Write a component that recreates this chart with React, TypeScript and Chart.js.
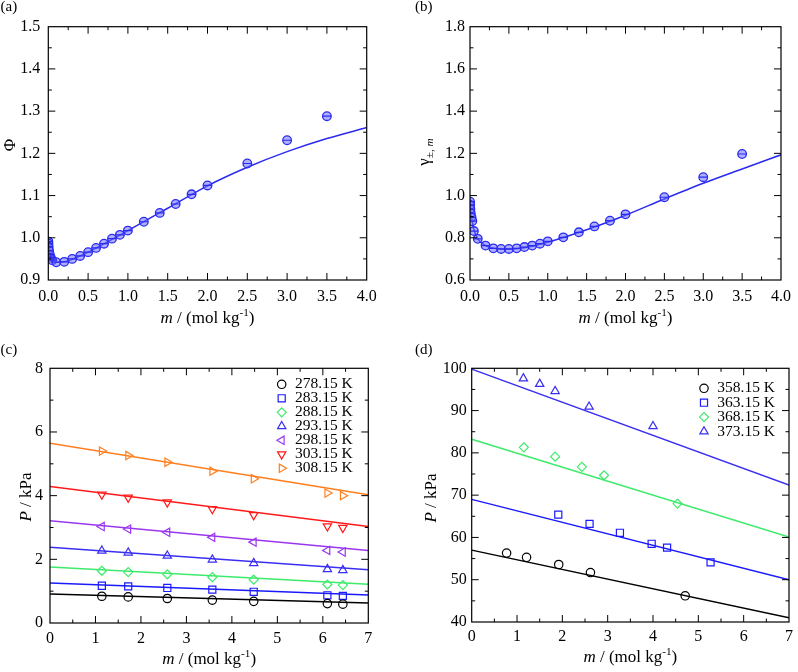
import React, { useEffect, useRef } from "react";
import { Chart, registerables } from "chart.js";
import { drawPoint } from "chart.js/helpers";
Chart.register(...registerables);

const FONT = "'Liberation Serif', 'DejaVu Serif', 'Times New Roman', serif";

// ---------- (a) osmotic coefficient ----------
const mA = [0.001, 0.002, 0.005, 0.01, 0.02, 0.03, 0.05, 0.1, 0.2, 0.3, 0.4, 0.5, 0.6, 0.7, 0.8, 0.9, 1.0, 1.2, 1.4, 1.6, 1.8, 2.0, 2.5, 3.0, 3.5];
const phiA = [0.991, 0.986, 0.978, 0.969, 0.960, 0.953, 0.947, 0.942, 0.943, 0.950, 0.957, 0.966, 0.976, 0.986, 0.998, 1.007, 1.017, 1.038, 1.059, 1.080, 1.103, 1.124, 1.176, 1.231, 1.288];
const fitMA = [0, 0.001, 0.005, 0.01, 0.02, 0.05, 0.1, 0.2, 0.3, 0.5, 0.75, 1.0, 1.5, 2.0, 2.5, 3.0, 3.5, 4.0];
const fitPhiA = [1.0, 0.99, 0.978, 0.970, 0.960, 0.948, 0.942, 0.943, 0.949, 0.966, 0.991, 1.017, 1.070, 1.123, 1.167, 1.204, 1.235, 1.261];

// ---------- (b) mean activity coefficient ----------
const mB = mA;
const gamB = [0.971, 0.955, 0.936, 0.916, 0.897, 0.879, 0.832, 0.795, 0.763, 0.750, 0.747, 0.747, 0.750, 0.756, 0.763, 0.772, 0.783, 0.802, 0.826, 0.854, 0.881, 0.911, 0.992, 1.087, 1.197];
const fitMB = [0, 0.001, 0.002, 0.005, 0.01, 0.02, 0.03, 0.05, 0.1, 0.2, 0.3, 0.4, 0.5, 0.7, 1.0, 1.5, 2.0, 2.5, 3.0, 3.5, 4.0];
const fitGamB = [0.985, 0.968, 0.955, 0.935, 0.915, 0.895, 0.878, 0.838, 0.795, 0.763, 0.751, 0.747, 0.746, 0.753, 0.779, 0.838, 0.907, 0.984, 1.058, 1.126, 1.193];

// ---------- (c) vapour pressure, low T ----------
const mC = [1.14, 1.72, 2.58, 3.57, 4.48, 6.10, 6.44];
const labelsC = ["278.15 K", "283.15 K", "288.15 K", "293.15 K", "298.15 K", "303.15 K", "308.15 K"];
const pC278 = [0.84, 0.82, 0.77, 0.72, 0.68, 0.61, 0.59];
const pC283 = [1.17, 1.15, 1.10, 1.05, 0.98, 0.87, 0.85];
const pC288 = [1.64, 1.60, 1.53, 1.44, 1.36, 1.21, 1.19];
const pC293 = [2.27, 2.21, 2.11, 1.99, 1.88, 1.69, 1.66];
const pC298 = [3.03, 2.95, 2.85, 2.69, 2.54, 2.28, 2.23];
const pC303 = [4.04, 3.94, 3.79, 3.58, 3.39, 3.04, 2.99];
const pC308 = [5.40, 5.26, 5.05, 4.77, 4.53, 4.08, 4.00];
const fitMC = [0, 7];
const fitC278 = [0.91, 0.63];
const fitC283 = [1.26, 0.88];
const fitC288 = [1.76, 1.22];
const fitC293 = [2.38, 1.67];
const fitC298 = [3.21, 2.28];
const fitC303 = [4.29, 3.03];
const fitC308 = [5.65, 4.03];

// ---------- (d) vapour pressure, high T ----------
const labelsD = ["358.15 K", "363.15 K", "368.15 K", "373.15 K"];
const mD358 = [0.77, 1.21, 1.92, 2.62, 4.71];
const pD358 = [56.3, 55.3, 53.6, 51.7, 46.2];
const mD363 = [1.91, 2.60, 3.27, 3.97, 4.31, 5.27];
const pD363 = [65.4, 63.2, 61.1, 58.5, 57.6, 54.1];
const mD368 = [1.15, 1.84, 2.43, 2.92, 4.54];
const pD368 = [81.3, 79.1, 76.7, 74.7, 68.0];
const mD373 = [1.14, 1.50, 1.84, 2.59, 4.00];
const pD373 = [97.6, 96.3, 94.6, 90.9, 86.3];
const fitMD = [0, 7];
const fitD358 = [57.0, 41.0];
const fitD363 = [69.0, 50.0];
const fitD368 = [83.2, 60.1];
const fitD373 = [99.8, 72.4];

// ---------- styles ----------
const BLUE_AB = "#2b2bef";
const FILL_AB = "rgba(110,110,255,0.55)";
const C_BLACK = "#000000";
const C_BLUE = "#1a1aff";
const C_GREEN = "#3deb6b";
const C_INDIGO = "#3a2ef2";
const C_PURPLE = "#9a36f0";
const C_RED = "#ff1a1a";
const C_ORANGE = "#ff7f1e";

type Seg = { t: string; it?: boolean; sup?: boolean; sub?: boolean };
interface Mk { style: string; rot: number; r: number }
interface LegendEntry extends Mk { label: string; color: string }
interface Panel {
  id: string; left: number; top: number; w: number; h: number;
  yAxisW: number; xAxisH: number; padTop: number; padRight: number;
  xMin: number; xMax: number; xStep: number; xMinor: number; xDec: number; xPad: number;
  yMin: number; yMax: number; yStep: number; yMinor: number; yDec: number; yPad: number;
  label: string; labelX: number; labelY: number;
  xTitleY: number; yTitle: Seg[]; yTitleX: number; yTitleY: number;
  legend?: { entries: LegendEntry[]; markerX: number; textX: number; y0: number; dy: number };
  datasets: any[];
}

const pts = (xs: number[], ys: number[]) => xs.map((x, i) => ({ x, y: ys[i] }));

const fitLine = (xs: number[], ys: number[], color: string, smooth = false) => ({
  data: pts(xs, ys), showLine: true, pointRadius: 0, borderColor: color, borderWidth: 1.5,
  fill: false, cubicInterpolationMode: smooth ? "monotone" : "default", order: 2,
});
const marks = (xs: number[], ys: number[], color: string, mk: Mk) => ({
  data: pts(xs, ys), showLine: false, pointStyle: mk.style, rotation: mk.rot, pointRotation: mk.rot,
  pointRadius: mk.r, pointBorderWidth: 1.2, borderColor: color, pointBorderColor: color,
  backgroundColor: "rgba(0,0,0,0)", pointBackgroundColor: "rgba(0,0,0,0)", order: 1,
});

const MK_CIRCLE: Mk = { style: "circle", rot: 0, r: 4.2 };
const MK_SQUARE: Mk = { style: "rect", rot: 0, r: 5 };
const MK_DIAMOND: Mk = { style: "rectRot", rot: 0, r: 4.5 };
const MK_UP: Mk = { style: "triangle", rot: 0, r: 4.8 };
const MK_LEFT: Mk = { style: "triangle", rot: -90, r: 4.8 };
const MK_DOWN: Mk = { style: "triangle", rot: 180, r: 4.8 };
const MK_RIGHT: Mk = { style: "triangle", rot: 90, r: 4.8 };

const abMarkers = (xs: number[], ys: number[]) => [
  {
    data: pts(xs, ys), showLine: false, pointStyle: "circle", pointRadius: 4.3, pointBorderWidth: 1.3,
    borderColor: BLUE_AB, pointBorderColor: BLUE_AB, backgroundColor: FILL_AB, pointBackgroundColor: FILL_AB, order: 1,
  },
  {
    data: pts(xs, ys), showLine: false, pointStyle: "line", pointRadius: 4.3, pointBorderWidth: 1.2,
    borderColor: BLUE_AB, pointBorderColor: BLUE_AB, order: 0,
  },
];

const XTITLE: Seg[] = [{ t: "m", it: true }, { t: " / (mol kg" }, { t: "-1", sup: true }, { t: ")" }];

const cEntries: LegendEntry[] = [
  { label: labelsC[0], color: C_BLACK, ...MK_CIRCLE },
  { label: labelsC[1], color: C_BLUE, ...MK_SQUARE },
  { label: labelsC[2], color: C_GREEN, ...MK_DIAMOND },
  { label: labelsC[3], color: C_INDIGO, ...MK_UP },
  { label: labelsC[4], color: C_PURPLE, ...MK_LEFT },
  { label: labelsC[5], color: C_RED, ...MK_DOWN },
  { label: labelsC[6], color: C_ORANGE, ...MK_RIGHT },
];
const dEntries: LegendEntry[] = [
  { label: labelsD[0], color: C_BLACK, ...MK_CIRCLE },
  { label: labelsD[1], color: C_BLUE, ...MK_SQUARE },
  { label: labelsD[2], color: C_GREEN, ...MK_DIAMOND },
  { label: labelsD[3], color: C_INDIGO, ...MK_UP },
];

const panels: Panel[] = [
  {
    id: "a", left: 0, top: 0, w: 399, h: 330,
    yAxisW: 48.3, xAxisH: 50, padTop: 26.7, padRight: 32.3,
    xMin: 0, xMax: 4, xStep: 0.5, xMinor: 0.25, xDec: 1, xPad: 7,
    yMin: 0.9, yMax: 1.5, yStep: 0.1, yMinor: 0.05, yDec: 1, yPad: 8,
    label: "(a)", labelX: 0.5, labelY: 11.3,
    xTitleY: 323, yTitle: [{ t: "Φ" }], yTitleX: 15, yTitleY: 145,
    datasets: [fitLine(fitMA, fitPhiA, BLUE_AB, true), ...abMarkers(mA, phiA)],
  },
  {
    id: "b", left: 400, top: 0, w: 398, h: 330,
    yAxisW: 70, xAxisH: 50, padTop: 26.7, padRight: 9.7,
    xMin: 0, xMax: 4, xStep: 0.5, xMinor: 0.25, xDec: 1, xPad: 7,
    yMin: 0.6, yMax: 1.8, yStep: 0.2, yMinor: 0.1, yDec: 1, yPad: 5,
    label: "(b)", labelX: 15, labelY: 11.3,
    xTitleY: 323, yTitle: [{ t: "γ" }, { t: "±, ", sub: true }, { t: "m", sub: true, it: true }], yTitleX: 28.5, yTitleY: 152,
    datasets: [fitLine(fitMB, fitGamB, BLUE_AB, true), ...abMarkers(mB, gamB)],
  },
  {
    id: "c", left: 0, top: 330, w: 400, h: 342,
    yAxisW: 50, xAxisH: 49, padTop: 38.3, padRight: 31.7,
    xMin: 0, xMax: 7, xStep: 1, xMinor: 0.5, xDec: 0, xPad: 6,
    yMin: 0, yMax: 8, yStep: 2, yMinor: 1, yDec: 0, yPad: 7,
    label: "(c)", labelX: 0.5, labelY: 24,
    xTitleY: 333.5, yTitle: [{ t: "P", it: true }, { t: " / kPa" }], yTitleX: 30.5, yTitleY: 167,
    legend: { entries: cEntries, markerX: 281.7, textX: 295, y0: 54.3, dy: 14 },
    datasets: [
      fitLine(fitMC, fitC278, C_BLACK), fitLine(fitMC, fitC283, C_BLUE), fitLine(fitMC, fitC288, C_GREEN),
      fitLine(fitMC, fitC293, C_INDIGO), fitLine(fitMC, fitC298, C_PURPLE), fitLine(fitMC, fitC303, C_RED),
      fitLine(fitMC, fitC308, C_ORANGE),
      marks(mC, pC278, C_BLACK, MK_CIRCLE), marks(mC, pC283, C_BLUE, MK_SQUARE), marks(mC, pC288, C_GREEN, MK_DIAMOND),
      marks(mC, pC293, C_INDIGO, MK_UP), marks(mC, pC298, C_PURPLE, MK_LEFT), marks(mC, pC303, C_RED, MK_DOWN),
      marks(mC, pC308, C_ORANGE, MK_RIGHT),
    ],
  },
  {
    id: "d", left: 400, top: 330, w: 398, h: 342,
    yAxisW: 71.7, xAxisH: 50, padTop: 38.3, padRight: 8,
    xMin: 0, xMax: 7, xStep: 1, xMinor: 0.5, xDec: 0, xPad: 5,
    yMin: 40, yMax: 100, yStep: 10, yMinor: 5, yDec: 0, yPad: 5,
    label: "(d)", labelX: 15, labelY: 24,
    xTitleY: 332, yTitle: [{ t: "P", it: true }, { t: " / kPa" }], yTitleX: 36, yTitleY: 168,
    legend: { entries: dEntries, markerX: 304, textX: 317.3, y0: 58.3, dy: 14.4 },
    datasets: [
      fitLine(fitMD, fitD358, C_BLACK), fitLine(fitMD, fitD363, C_BLUE), fitLine(fitMD, fitD368, C_GREEN),
      fitLine(fitMD, fitD373, C_INDIGO),
      marks(mD358, pD358, C_BLACK, MK_CIRCLE), marks(mD363, pD363, C_BLUE, MK_SQUARE),
      marks(mD368, pD368, C_GREEN, MK_DIAMOND), marks(mD373, pD373, C_INDIGO, MK_UP),
    ],
  },
];

const TITLE_SIZE = 17;

function richWidth(ctx: CanvasRenderingContext2D, segs: Seg[], size: number) {
  let total = 0;
  const ws: number[] = [];
  for (const s of segs) {
    const fs = s.sup || s.sub ? size * 0.66 : size;
    ctx.font = `${s.it ? "italic " : ""}${fs}px ${FONT}`;
    const w = ctx.measureText(s.t).width;
    ws.push(w);
    total += w;
  }
  return { total, ws };
}

function drawRich(ctx: CanvasRenderingContext2D, segs: Seg[], size: number, cx: number, y: number) {
  const { total, ws } = richWidth(ctx, segs, size);
  let x = cx - total / 2;
  ctx.textAlign = "left";
  ctx.textBaseline = "alphabetic";
  segs.forEach((s, i) => {
    const fs = s.sup || s.sub ? size * 0.66 : size;
    ctx.font = `${s.it ? "italic " : ""}${fs}px ${FONT}`;
    const dy = s.sup ? -size * 0.4 : s.sub ? size * 0.28 : 0;
    ctx.fillText(s.t, x, y + dy);
    x += ws[i];
  });
}

function makePlugin(p: Panel) {
  return {
    id: "panelDecor" + p.id,
    afterDraw(chart: any) {
      const ctx: CanvasRenderingContext2D = chart.ctx;
      const a = chart.chartArea;
      const xs = chart.scales.x;
      const ys = chart.scales.y;
      ctx.save();
      ctx.strokeStyle = "#000";
      ctx.fillStyle = "#000";
      ctx.lineWidth = 1.2;
      ctx.strokeRect(a.left, a.top, a.right - a.left, a.bottom - a.top);
      ctx.lineWidth = 1;
      ctx.beginPath();
      const nx = Math.round((p.xMax - p.xMin) / p.xMinor);
      for (let i = 1; i < nx; i++) {
        const v = p.xMin + i * p.xMinor;
        const r = v / p.xStep;
        const major = Math.abs(r - Math.round(r)) < 1e-6;
        const len = major ? 7 : 3.5;
        const px = xs.getPixelForValue(v);
        ctx.moveTo(px, a.bottom); ctx.lineTo(px, a.bottom - len);
        ctx.moveTo(px, a.top); ctx.lineTo(px, a.top + len);
      }
      const ny = Math.round((p.yMax - p.yMin) / p.yMinor);
      for (let i = 1; i < ny; i++) {
        const v = p.yMin + i * p.yMinor;
        const r = (v - p.yMin) / p.yStep;
        const major = Math.abs(r - Math.round(r)) < 1e-6;
        const len = major ? 7 : 3.5;
        const py = ys.getPixelForValue(v);
        ctx.moveTo(a.left, py); ctx.lineTo(a.left + len, py);
        ctx.moveTo(a.right, py); ctx.lineTo(a.right - len, py);
      }
      ctx.stroke();

      ctx.fillStyle = "#000";
      drawRich(ctx, XTITLE, TITLE_SIZE, (a.left + a.right) / 2, p.xTitleY);
      ctx.save();
      ctx.translate(p.yTitleX, p.yTitleY);
      ctx.rotate(-Math.PI / 2);
      drawRich(ctx, p.yTitle, TITLE_SIZE, 0, 0);
      ctx.restore();

      ctx.font = `15px ${FONT}`;
      ctx.textAlign = "left";
      ctx.textBaseline = "alphabetic";
      ctx.fillText(p.label, p.labelX, p.labelY);

      if (p.legend) {
        const L = p.legend;
        L.entries.forEach((e, i) => {
          const y = L.y0 + i * L.dy;
          ctx.strokeStyle = e.color;
          ctx.fillStyle = "rgba(0,0,0,0)";
          ctx.lineWidth = 1.2;
          drawPoint(ctx, { pointStyle: e.style as any, rotation: e.rot, radius: e.r, borderWidth: 1.2 } as any, L.markerX, y);
          ctx.fillStyle = "#000";
          ctx.font = `15.5px ${FONT}`;
          ctx.textBaseline = "middle";
          ctx.textAlign = "left";
          ctx.fillText(e.label, L.textX, y);
        });
      }
      ctx.restore();
    },
  };
}

function buildConfig(p: Panel): any {
  const tickFont = { family: FONT, size: 16 };
  return {
    type: "scatter",
    data: { datasets: p.datasets },
    options: {
      animation: false,
      responsive: false,
      maintainAspectRatio: false,
      events: [],
      layout: { padding: { top: p.padTop, right: p.padRight, left: 0, bottom: 0 } },
      plugins: { legend: { display: false }, tooltip: { enabled: false }, title: { display: false } },
      scales: {
        x: {
          type: "linear", min: p.xMin, max: p.xMax,
          grid: { display: false, drawTicks: false }, border: { display: false },
          ticks: {
            stepSize: p.xStep, autoSkip: false, maxRotation: 0, padding: p.xPad, color: "#000", font: tickFont,
            callback: (v: any) => Number(v).toFixed(p.xDec),
          },
          afterFit: (s: any) => { s.height = p.xAxisH; },
        },
        y: {
          type: "linear", min: p.yMin, max: p.yMax,
          grid: { display: false, drawTicks: false }, border: { display: false },
          ticks: {
            stepSize: p.yStep, autoSkip: false, padding: p.yPad, color: "#000", font: tickFont,
            callback: (v: any) => Number(v).toFixed(p.yDec),
          },
          afterFit: (s: any) => { s.width = p.yAxisW; },
        },
      },
    },
    plugins: [makePlugin(p)],
  };
}

function PanelChart({ p }: { p: Panel }) {
  const ref = useRef<HTMLCanvasElement>(null);
  useEffect(() => {
    let alive = true;
    const chart = new Chart(ref.current as HTMLCanvasElement, buildConfig(p));
    const fonts: any = (document as any).fonts;
    if (fonts && fonts.load) {
      Promise.all([
        fonts.load("16px 'Liberation Serif'"),
        fonts.load("italic 16px 'Liberation Serif'"),
      ]).then(() => { if (alive) chart.update(); }).catch(() => {});
    }
    return () => { alive = false; chart.destroy(); };
  }, []);
  return (
    <canvas
      ref={ref}
      width={p.w}
      height={p.h}
      style={{ position: "absolute", left: p.left, top: p.top, width: p.w, height: p.h, display: "block" }}
    />
  );
}

export default function App() {
  return (
    <div style={{ position: "absolute", left: 0, top: 0, width: 798, height: 672, background: "#fff", overflow: "hidden", fontFamily: FONT }}>
      <span style={{ position: "absolute", left: -1000, top: 0, fontFamily: "'Liberation Serif'" }}>.<i>m</i></span>
      {panels.map((p) => (
        <PanelChart key={p.id} p={p} />
      ))}
    </div>
  );
}
